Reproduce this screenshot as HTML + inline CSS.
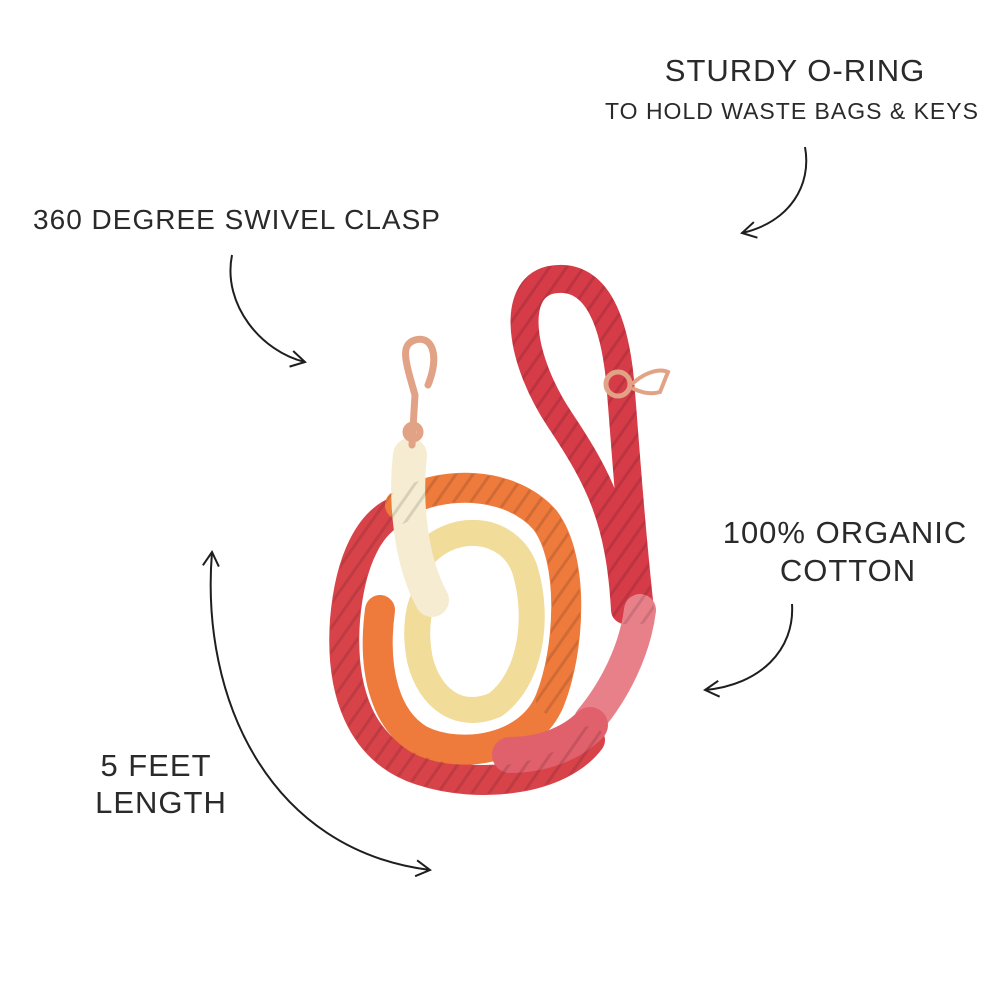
<!DOCTYPE html>
<html><head><meta charset="utf-8"><style>
html,body{margin:0;padding:0;background:#fff;}
svg{display:block}
text{font-family:"Liberation Sans",sans-serif;fill:#2a2a2a;letter-spacing:1px}
</style></head><body>
<svg width="1000" height="1000" viewBox="0 0 1000 1000" xmlns="http://www.w3.org/2000/svg">
<rect width="1000" height="1000" fill="#fff"/>
<defs>
<marker id="ah" viewBox="0 0 20 20" refX="17" refY="10" markerWidth="20" markerHeight="20" orient="auto-start-reverse" markerUnits="userSpaceOnUse">
<path d="M3,2 L17,10 L3,18" fill="none" stroke="#1e1e1e" stroke-width="2"/></marker>
<pattern id="tw" width="14" height="14" patternUnits="userSpaceOnUse" patternTransform="rotate(35)">
<rect width="14" height="14" fill="none"/><rect width="3" height="14" fill="rgba(0,0,0,0.12)"/></pattern>
</defs>

<text x="795" y="81" font-size="31" text-anchor="middle">STURDY O-RING</text>
<text x="792" y="119" font-size="23" text-anchor="middle">TO HOLD WASTE BAGS &amp; KEYS</text>
<text x="237" y="229" font-size="28" text-anchor="middle">360 DEGREE SWIVEL CLASP</text>
<text x="845" y="543" font-size="31" text-anchor="middle">100% ORGANIC</text>
<text x="848" y="581" font-size="31" text-anchor="middle">COTTON</text>
<text x="156" y="776" font-size="31" text-anchor="middle">5 FEET</text>
<text x="161" y="813" font-size="31" text-anchor="middle">LENGTH</text>

<g fill="none" stroke="#1e1e1e" stroke-width="2">
<path d="M805,147 C812,185 790,222 742,233" marker-end="url(#ah)"/>
<path d="M232,255 C222,305 262,352 305,362" marker-end="url(#ah)"/>
<path d="M792,604 C795,650 760,685 705,690" marker-end="url(#ah)"/>
<path d="M212,552 C200,700 270,850 430,870" marker-start="url(#ah)" marker-end="url(#ah)"/>
</g>

<g fill="none" stroke-linecap="round">
<path d="M625,610 C620,520 600,480 560,420 C520,360 510,290 550,280 C600,270 615,330 620,380 C625,440 630,520 640,610" stroke="#d63b48" stroke-width="28"/>
<path d="M590,740 C560,780 480,790 420,770 C360,750 340,690 345,620 C350,560 370,520 400,510" stroke="#d8434a" stroke-width="30"/>
<path d="M400,505 C440,480 510,480 545,520 C575,560 570,650 550,700 C530,750 460,760 420,740 C385,720 372,670 380,610" stroke="#ee7a3c" stroke-width="30"/>
<path d="M420,560 C450,520 510,525 525,570 C540,620 530,680 495,705 C460,720 430,700 420,660 C414,630 418,600 430,590" stroke="#f1dc9a" stroke-width="26"/>
<path d="M410,455 C405,500 410,560 432,600" stroke="#f5ecd2" stroke-width="34"/>
<path d="M640,610 C635,650 615,690 590,720" stroke="#e8808a" stroke-width="32"/>
<path d="M590,725 C570,745 540,755 510,755" stroke="#e0606c" stroke-width="36"/>
<path d="M590,740 C560,780 480,790 420,770 C360,750 340,690 345,620 C350,560 370,520 400,510 M400,505 C440,480 510,480 545,520 C575,560 570,650 550,700 M625,610 C620,520 600,480 560,420 C520,360 510,290 550,280 C600,270 615,330 620,380 C625,440 630,520 640,610" stroke="url(#tw)" stroke-width="28"/>
</g>
<g fill="none" stroke="#e2a285" stroke-width="7" stroke-linecap="round">
<path d="M412,445 L415,395 C405,360 400,345 415,340 C432,335 440,355 428,385"/>
<circle cx="413" cy="432" r="7"/>
</g>
<circle cx="618" cy="384" r="12" fill="none" stroke="#e2a285" stroke-width="5"/>
<path d="M632,384 C645,372 660,368 668,372 L660,392 C650,395 640,392 632,388" fill="none" stroke="#e2a285" stroke-width="4"/>
</svg>
</body></html>
